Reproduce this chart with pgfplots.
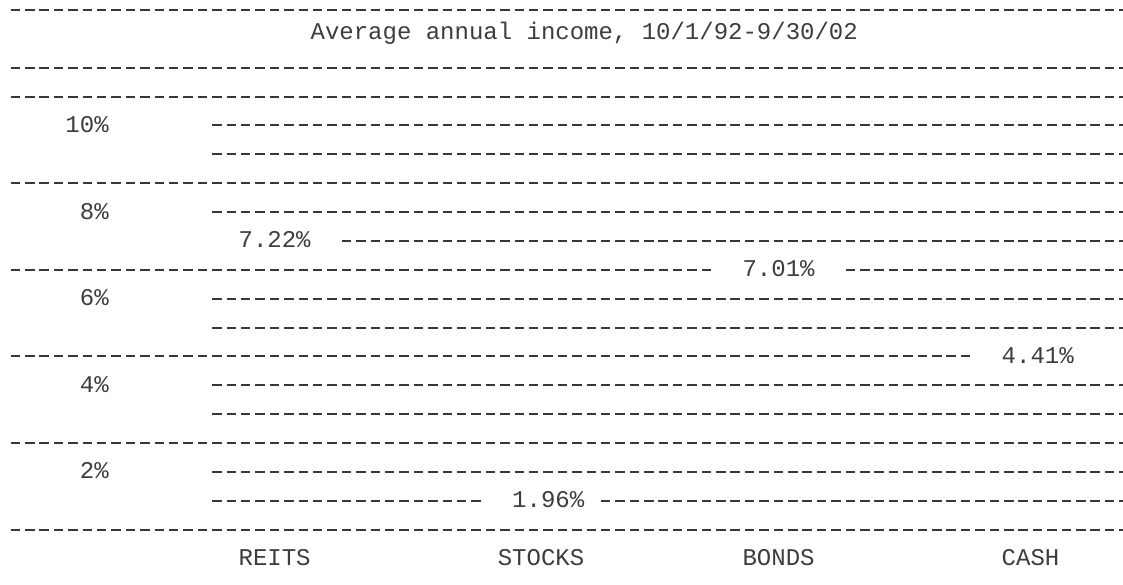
\documentclass[border=0pt]{standalone}
\usepackage{pgfplots}
\pgfplotsset{compat=1.18}
\usepackage{pgfplotstable}
\usepackage{fontspec}
\newfontfamily\mono{Liberation Mono}
\newcommand\mf{\mono\fontsize{24pt}{28pt}\selectfont}
\definecolor{ink}{gray}{0.24}
\definecolor{rulecol}{gray}{0.22}

% category, column of the category label, value (%), column and text row of the value label
\pgfplotstableread{
cat     col  value  lcol  lrow
REITS   16   7.22   16    9
STOCKS  34   1.96   35    18
BONDS   51   7.01   51    10
CASH    69   4.41   69    13
}\income

\begin{document}
\begin{tikzpicture}
\begin{axis}[
  scale only axis, width=1123pt, height=585pt,
  xmin=-0.5556, xmax=77.431, ymin=-0.6119, ymax=12.897,
  axis line style={draw=none},
  axis background/.style={fill=white},
  major tick length=0pt,
  xtick=\empty,
  ytick={2,4,6,8,10},
  yticklabels={2\%,4\%,6\%,8\%,10\%},
  yticklabel style={font=\mf, text=ink, anchor=base east, inner sep=0pt, xshift=108.8pt, yshift=-7pt},
  title={Average annual income, 10/1/92-9/30/02},
  title style={font=\mf, text=ink, at={(0.2764,0.9217)}, anchor=base west, inner sep=0pt},
  dashrule/.style={draw=rulecol, line width=1.6pt, dash pattern=on 9.5pt off 4.9pt, line cap=butt},
  every node near coord/.append style={font=\mf, text=ink, anchor=base west, inner sep=0pt, yshift=-7pt},
]
% text-style rules, one per line of the layout
\addplot[dashrule] coordinates {(0.174,12.6660) (77.43,12.6660)};
\addplot[dashrule] coordinates {(0.174,11.3266) (77.43,11.3266)};
\addplot[dashrule] coordinates {(0.174,10.6570) (77.43,10.6570)};
\addplot[dashrule] coordinates {(14.174,10.0104) (77.43,10.0104)};
\addplot[dashrule] coordinates {(14.174,9.3407) (77.43,9.3407)};
\addplot[dashrule] coordinates {(0.174,8.6711) (77.43,8.6711)};
\addplot[dashrule] coordinates {(14.174,8.0014) (77.43,8.0014)};
\addplot[dashrule] coordinates {(23.174,7.3317) (77.43,7.3317)};
\addplot[dashrule] coordinates {(0.174,6.6621) (48.833,6.6621)};
\addplot[dashrule] coordinates {(58.174,6.6621) (77.43,6.6621)};
\addplot[dashrule] coordinates {(14.174,5.9924) (77.43,5.9924)};
\addplot[dashrule] coordinates {(14.174,5.3227) (77.43,5.3227)};
\addplot[dashrule] coordinates {(0.174,4.6761) (66.833,4.6761)};
\addplot[dashrule] coordinates {(14.174,4.0065) (77.43,4.0065)};
\addplot[dashrule] coordinates {(14.174,3.3368) (77.43,3.3368)};
\addplot[dashrule] coordinates {(0.174,2.6671) (77.43,2.6671)};
\addplot[dashrule] coordinates {(14.174,1.9975) (77.43,1.9975)};
\addplot[dashrule] coordinates {(14.174,1.3278) (32.833,1.3278)};
\addplot[dashrule] coordinates {(41.174,1.3278) (77.43,1.3278)};
\addplot[dashrule] coordinates {(0.174,0.6581) (77.43,0.6581)};
% value labels
\addplot[draw=none, point meta=explicit,
  nodes near coords={\pgfmathprintnumber[fixed,fixed zerofill,precision=2,assume math mode=true]{\pgfplotspointmeta}\%}]
  table[x=lcol, y expr={(20-\thisrow{lrow})*2/3}, meta=value] {\income};
% category labels
\addplot[draw=none, point meta=explicit symbolic, nodes near coords]
  table[x=col, y expr=0, meta=cat] {\income};
\end{axis}
\end{tikzpicture}
\end{document}
